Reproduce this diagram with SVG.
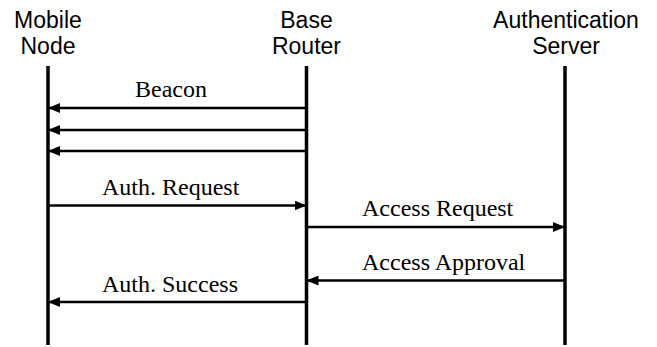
<svg xmlns="http://www.w3.org/2000/svg" width="657" height="347" viewBox="0 0 657 347">
  <style>
    .head { font-family: "Liberation Sans", Arial, sans-serif; font-size: 23px; fill: #000; text-anchor: middle; }
    .lbl { font-family: "Liberation Serif", "Times New Roman", serif; font-size: 24px; fill: #000; }
    .life { stroke: #000; stroke-width: 3.5; fill: none; }
    .msg { stroke: #000; stroke-width: 2.5; fill: none; }
  </style>
  <defs>
    <marker id="arrow" viewBox="0 0 12 10" refX="12" refY="5" markerWidth="12" markerHeight="10" markerUnits="userSpaceOnUse" orient="auto">
      <path d="M0,0 L12,5 L0,10 Z" fill="#000"/>
    </marker>
  </defs>
  <rect width="657" height="347" fill="#fff"/>

  <g id="mobile-node">
    <text class="head" x="48" y="28">Mobile</text>
    <text class="head" x="48" y="54">Node</text>
    <line class="life" x1="48" y1="66" x2="48" y2="345"/>
  </g>
  <g id="base-router">
    <text class="head" x="306.5" y="28">Base</text>
    <text class="head" x="306.5" y="54">Router</text>
    <line class="life" x1="306.5" y1="66" x2="306.5" y2="345"/>
  </g>
  <g id="auth-server">
    <text class="head" x="566" y="28">Authentication</text>
    <text class="head" x="566" y="54">Server</text>
    <line class="life" x1="565" y1="66" x2="565" y2="345"/>
  </g>

  <g id="messages">
    <text class="lbl" x="135" y="97">Beacon</text>
    <line class="msg" x1="306.5" y1="108" x2="48" y2="108" marker-end="url(#arrow)"/>
    <line class="msg" x1="306.5" y1="130" x2="48" y2="130" marker-end="url(#arrow)"/>
    <line class="msg" x1="306.5" y1="151" x2="48" y2="151" marker-end="url(#arrow)"/>

    <text class="lbl" x="102" y="195">Auth. Request</text>
    <line class="msg" x1="48" y1="205.5" x2="306.5" y2="205.5" marker-end="url(#arrow)"/>

    <text class="lbl" x="362" y="215.5">Access Request</text>
    <line class="msg" x1="306.5" y1="227" x2="565" y2="227" marker-end="url(#arrow)"/>

    <text class="lbl" x="362" y="270">Access Approval</text>
    <line class="msg" x1="565" y1="280.5" x2="306.5" y2="280.5" marker-end="url(#arrow)"/>

    <text class="lbl" x="102" y="291.5">Auth. Success</text>
    <line class="msg" x1="306.5" y1="302" x2="48" y2="302" marker-end="url(#arrow)"/>
  </g>
</svg>
